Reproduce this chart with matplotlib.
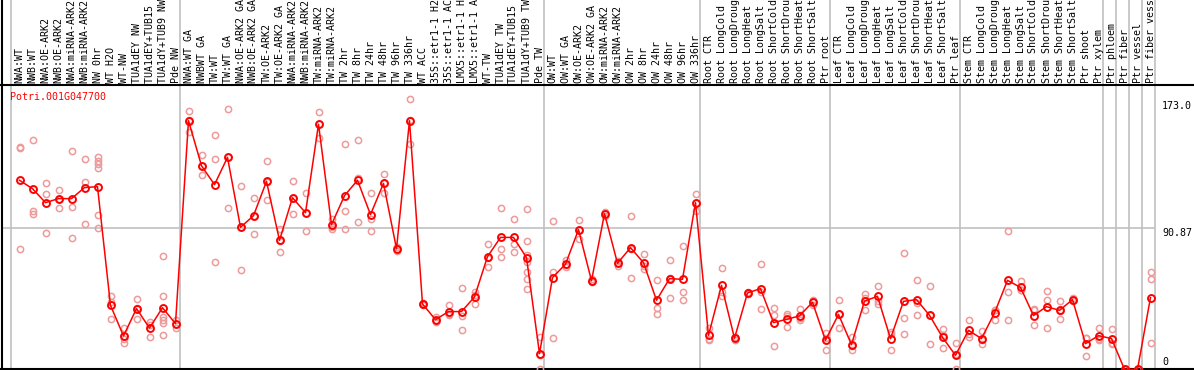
import matplotlib
matplotlib.use('Agg')
import matplotlib.pyplot as plt

gene = 'Potri.001G047700'

labels = [
    'NWA:WT', 'NWB:WT', 'NWA:OE-ARK2', 'NWB:OE-ARK2', 'NWA:miRNA-ARK2', 'NWB:miRNA-ARK2',
    'NW 0hr', 'WT H2O', 'WT-NW', 'TUA1dEY NW', 'TUA1dEY+TUB15 NW', 'TUA1dY+TUB9 NW', 'Pde NW',
    'NWA:WT GA', 'NWBWT GA', 'TW:WT', 'TW:WT GA', 'NWA:OE-ARK2 GA', 'NWB:OE-ARK2 GA',
    'TW:OE-ARK2', 'TW:OE-ARK2 GA', 'NWA:miRNA-ARK2', 'NWB:miRNA-ARK2', 'TW:miRNA-ARK2',
    'TW:miRNA-ARK2', 'TW 2hr', 'TW 8hr', 'TW 24hr', 'TW 48hr', 'TW 96hr', 'TW 336hr',
    'WT ACC', '35S::etr1-1 H2O', '35S::etr1-1 ACC', 'LMX5::etr1-1 H2O', 'LMX5::etr1-1 ACC',
    'WT-TW', 'TUA1dEY TW', 'TUA1dEY+TUB15 TW', 'TUA1dY+TUB9 TW', 'Pde TW',
    'OW:WT', 'OW:WT GA', 'OW:OE-ARK2', 'OW:OE-ARK2 GA', 'OW:miRNA-ARK2', 'OW:miRNA-ARK2',
    'OW 2hr', 'OW 8hr', 'OW 24hr', 'OW 48hr', 'OW 96hr', 'OW 336hr',
    'Root CTR', 'Root LongCold', 'Root LongDrought', 'Root LongHeat', 'Root LongSalt',
    'Root ShortCold', 'Root ShortDrought', 'Root ShortHeat', 'Root ShortSalt', 'Ptr root',
    'Leaf CTR', 'Leaf LongCold', 'Leaf LongDrought', 'Leaf LongHeat', 'Leaf LongSalt',
    'Leaf ShortCold', 'Leaf ShortDrought', 'Leaf ShortHeat', 'Leaf ShortSalt', 'Ptr leaf',
    'Stem CTR', 'Stem LongCold', 'Stem LongDrought', 'Stem LongHeat', 'Stem LongSalt',
    'Stem ShortCold', 'Stem ShortDrought', 'Stem ShortHeat', 'Stem ShortSalt',
    'Ptr shoot', 'Ptr xylem', 'Ptr phloem', 'Ptr fiber', 'Ptr vessel', 'Ptr fiber vessel',
]

means = [
    121.8, 116.4, 107.4, 110.0, 110.0, 117.1, 117.7, 41.2, 21.5, 39.1, 26.6, 39.7, 29.4,
    160.2, 131.2, 119.0, 136.6, 91.5, 99.0, 121.1, 83.1, 110.6, 100.9, 157.9, 93.2,
    111.9, 121.8, 99.7, 119.8, 77.7, 160.2, 42.1, 32.0, 37.2, 37.2, 46.6, 72.6, 85.0,
    85.0, 72.0, 10.1,
    59.1, 67.7, 90.0, 57.1, 100.3, 68.3, 78.4, 68.7, 44.5, 58.4, 58.0, 107.4,
    21.9, 54.1, 20.0, 49.2, 52.0, 30.1, 32.2, 34.4, 43.2, 18.7,
    35.4, 15.9, 44.0, 47.0, 19.8, 43.8, 44.9, 34.8, 20.6, 9.0,
    25.1, 19.8, 36.3, 57.3, 52.8, 34.6, 40.4, 38.0, 44.9, 16.5, 21.7,
    19.8, 0.0, 0.0, 46.2,
]

reps = [
    [143.5, 142.5, 77.7], [147.5, 102.0, 99.9], [120.3, 113.2, 88.1], [115.3, 110.0, 104.2],
    [140.9, 104.8, 84.4], [135.7, 120.7, 93.9], [136.8, 134.0, 132.1, 130.0, 99.2, 91.0],
    [47.0, 43.4, 32.6], [26.6, 19.8, 17.2], [45.5, 39.2, 32.6], [30.5, 28.8, 20.8],
    [73.2, 47.0, 33.7, 32.0, 30.1, 22.3], [31.6, 29.4, 26.6],
    [166.4, 160.5, 152.9], [137.9, 130.8, 125.0], [151.2, 135.7, 69.1], [168.0, 137.0, 104.2],
    [118.1, 91.5, 64.2], [110.6, 99.0, 87.4], [134.0, 121.0, 108.9], [90.6, 83.0, 75.8],
    [121.1, 110.5, 100.3], [113.6, 100.5, 88.9], [166.0, 158.0, 149.2], [97.1, 92.0, 90.6],
    [145.0, 101.8, 90.2], [148.0, 123.5, 94.7], [113.6, 97.1, 88.9], [125.6, 120.0, 113.6],
    [79.0, 77.5, 76.5], [174.4, 160.5, 145.4], [43.0, 42.0, 41.3], [33.5, 32.0, 30.6],
    [41.2, 35.4, 35.0], [52.6, 34.4, 25.6], [49.8, 47.7, 42.3], [80.5, 71.9, 65.9],
    [104.2, 77.3, 72.4], [97.1, 81.0, 75.6], [103.5, 82.9, 73.9, 69.1, 62.7, 58.4, 52.0],
    [20.8, 9.0, 0.4],
    [95.4, 62.7, 20.4], [70.3, 67.0, 65.9], [96.4, 89.5, 84.2], [58.0, 57.0, 56.3],
    [101.2, 100.3, 98.6], [69.8, 68.7, 66.4], [98.6, 77.5, 59.1], [74.1, 66.6, 64.9],
    [57.7, 39.7, 35.9], [70.2, 58.8, 46.2], [79.3, 49.6, 44.9], [112.8, 107.4, 102.0],
    [26.8, 19.8, 19.1], [65.5, 49.8, 47.1], [20.5, 20.0, 19.0], [49.8, 49.3, 48.5],
    [67.7, 49.8, 38.7], [39.7, 34.8, 15.2], [35.4, 34.2, 27.3], [39.1, 33.3, 31.5],
    [44.9, 43.4, 41.3], [23.6, 20.3, 12.2],
    [44.5, 35.4, 26.4], [20.8, 14.8, 12.2], [48.3, 45.7, 38.0], [53.5, 44.0, 42.3],
    [24.0, 22.7, 12.7], [75.2, 33.3, 22.9], [57.3, 42.7, 34.8], [53.5, 34.8, 16.1],
    [25.8, 22.0, 14.0], [17.2, 9.8, 0.0],
    [32.0, 22.5, 20.8], [24.7, 18.6, 16.1], [38.5, 38.4, 32.0], [88.9, 49.8, 32.0],
    [56.7, 51.0, 50.9], [39.1, 38.3, 28.4], [50.5, 44.9, 26.4], [44.0, 37.5, 32.6],
    [46.0, 44.9, 44.0], [20.4, 20.3, 8.8], [26.8, 19.4, 18.9],
    [26.2, 17.0, 16.1], [0.0, 0.0, 0.0], [0.0, 0.0, 0.0], [62.7, 58.4, 17.2],
]

# group boundaries (column index where a new group starts)
group_edges = [0, 13, 41, 53, 63, 73, 84, 85, 86, 87, 88]
grid_value = 90.87
max_value = 173.0

# pixel layout: column i sits at 19.5 + 13*i px, value 0 at y=369.3 px, 1.5517 px per unit
W, H = 1194, 370
px_x0, px_step = 19.5, 13.0
px_y0, px_scale = 369.3, 1.5517


def vy(py):
    # pixel row -> data value
    return (px_y0 - py) / px_scale


def dx(px):
    # pixel column -> data x
    return (px - px_x0) / px_step


fig = plt.figure(figsize=(W / 100, H / 100), dpi=100)
ax = fig.add_axes([0, 0, 1, 1])
ax.set_xlim(dx(0), dx(W))
ax.set_ylim(vy(H), vy(0))
ax.axis('off')

mono = 'DejaVu Sans Mono'
fs = 7.2

# gray separators between sample groups
for k in group_edges:
    ax.axvline(k - 0.69, color='#c0c0c0', lw=1.2, zorder=1)

# middle reference line
ax.hlines(grid_value, dx(2), group_edges[-1] - 0.69, color='#c0c0c0', lw=1.2, zorder=1)

# black frame lines
ax.axvline(dx(2), color='black', lw=1.5, zorder=2)
ax.axhline(vy(85), color='black', lw=1.5, zorder=2)
ax.axhline(0, color='black', lw=1.5, zorder=2)

# header labels (long ones run off the top, like the original)
for i, lab in enumerate(labels):
    ax.text(i, vy(83), lab, rotation=90, ha='center', va='bottom',
            fontsize=fs, family=mono, color='black')

# replicates
for i, vals in enumerate(reps):
    ax.plot([i] * len(vals), vals, 'o', ms=4.5, mfc='none', mec='#ee9a9a', mew=1.1,
            clip_on=False, zorder=3)

# means
x = list(range(len(means)))
ax.plot(x, means, '-', color='red', lw=1.1, zorder=4)
ax.plot(x, means, 'o', ms=5.0, mfc='none', mec='red', mew=1.4, zorder=5)

ax.text(dx(10), vy(92), gene, color='red', fontsize=fs, family=mono, ha='left', va='top')

# value labels on the right
ax.text(dx(1162), max_value, f'{max_value:.1f}', fontsize=fs, family=mono, ha='left', va='top')
ax.text(dx(1162), grid_value, f'{grid_value:.2f}', fontsize=fs, family=mono, ha='left', va='top')
ax.text(dx(1162), vy(367), '0', fontsize=fs, family=mono, ha='left', va='bottom')

plt.savefig('out.png', dpi=100)
plt.close()
